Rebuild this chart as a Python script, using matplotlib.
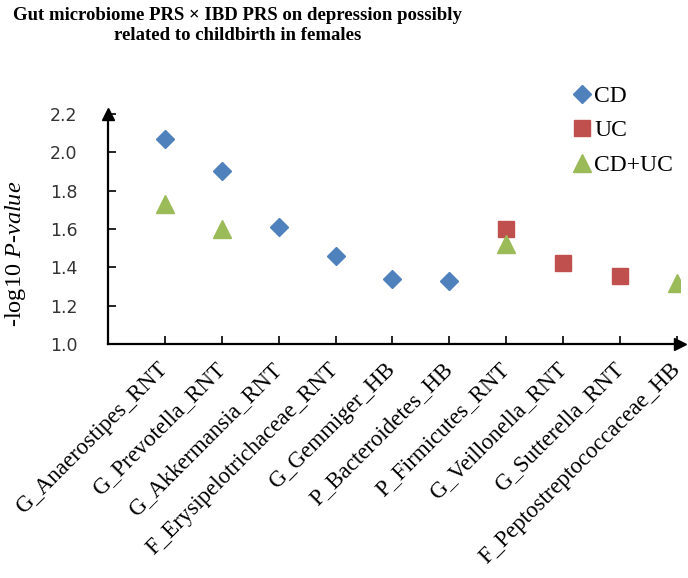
import matplotlib
matplotlib.use("Agg")
import matplotlib.pyplot as plt

plt.rcParams["mathtext.fontset"] = "custom"
plt.rcParams["mathtext.rm"] = "Liberation Serif"
plt.rcParams["mathtext.it"] = "Liberation Serif:italic"

# taxa on the x axis
taxa = ["G_Anaerostipes_RNT", "G_Prevotella_RNT", "G_Akkermansia_RNT",
        "F_Erysipelotrichaceae_RNT", "G_Gemmiger_HB", "P_Bacteroidetes_HB",
        "P_Firmicutes_RNT", "G_Veillonella_RNT", "G_Sutterella_RNT",
        "F_Peptostreptococcaceae_HB"]

# -log10 p-values, by IBD subtype
cd_taxa = ["G_Anaerostipes_RNT", "G_Prevotella_RNT", "G_Akkermansia_RNT",
           "F_Erysipelotrichaceae_RNT", "G_Gemmiger_HB", "P_Bacteroidetes_HB"]
cd_vals = [2.07, 1.90, 1.61, 1.46, 1.34, 1.33]

uc_taxa = ["P_Firmicutes_RNT", "G_Veillonella_RNT", "G_Sutterella_RNT"]
uc_vals = [1.60, 1.42, 1.355]

cduc_taxa = ["G_Anaerostipes_RNT", "G_Prevotella_RNT", "P_Firmicutes_RNT",
             "F_Peptostreptococcaceae_HB"]
cduc_vals = [1.73, 1.60, 1.52, 1.32]

yticks = [1.0, 1.2, 1.4, 1.6, 1.8, 2.0, 2.2]

serif = "Liberation Serif"

fig = plt.figure(figsize=(6.88, 5.78), dpi=100)
ax = fig.add_axes([0.157, 0.405, 0.831, 0.398])

pos = {t: i for i, t in enumerate(taxa)}
ax.plot([pos[t] for t in cd_taxa], cd_vals, linestyle="none", marker="D",
        ms=9.5, color="#4F81BD", label="CD")
ax.plot([pos[t] for t in uc_taxa], uc_vals, linestyle="none", marker="s",
        ms=12, color="#C0504D", label="UC")
ax.plot([pos[t] for t in cduc_taxa], cduc_vals, linestyle="none", marker="^",
        ms=13, color="#9BBB59", label="CD+UC")

ax.set_xlim(-1, 9.05)
ax.set_ylim(1.0, 2.2)
ax.set_xticks(range(len(taxa)))
ax.set_xticklabels(taxa, rotation=45, ha="right", va="center",
                   rotation_mode="anchor", family=serif, fontsize=16.5)
ax.set_yticks(yticks)
ax.set_yticklabels(["%.1f" % v for v in yticks], fontsize=12.5, color="#333333")
ax.tick_params(axis="both", direction="in", length=6, width=1.2)
ax.tick_params(axis="x", pad=16)
ax.tick_params(axis="y", pad=22)

for s in ["top", "right"]:
    ax.spines[s].set_visible(False)
for s in ["left", "bottom"]:
    ax.spines[s].set_linewidth(1.6)

# arrow heads on the axes
ax.plot(1, 0, ">k", ms=8, transform=ax.transAxes, clip_on=False)
ax.plot(0, 1, "^k", ms=8, transform=ax.transAxes, clip_on=False)

ax.set_ylabel("-log10 $\\mathit{P}$-$\\mathit{value}$", family=serif,
              fontsize=17.5)
ax.yaxis.set_label_coords(-0.14, 0.39)

ax.legend(loc="upper right", bbox_to_anchor=(1.005, 1.165), frameon=False,
          prop={"family": serif, "size": 17}, handletextpad=-0.1,
          labelspacing=0.55, borderaxespad=0, handlelength=1.2)

fig.text(0.345, 0.988, "Gut microbiome PRS \u00d7 IBD PRS on depression possibly\nrelated to childbirth in females",
         ha="center", va="top", family=serif, fontweight="bold", fontsize=13.5,
         linespacing=1.25)

fig.savefig("out.png", dpi=100)
